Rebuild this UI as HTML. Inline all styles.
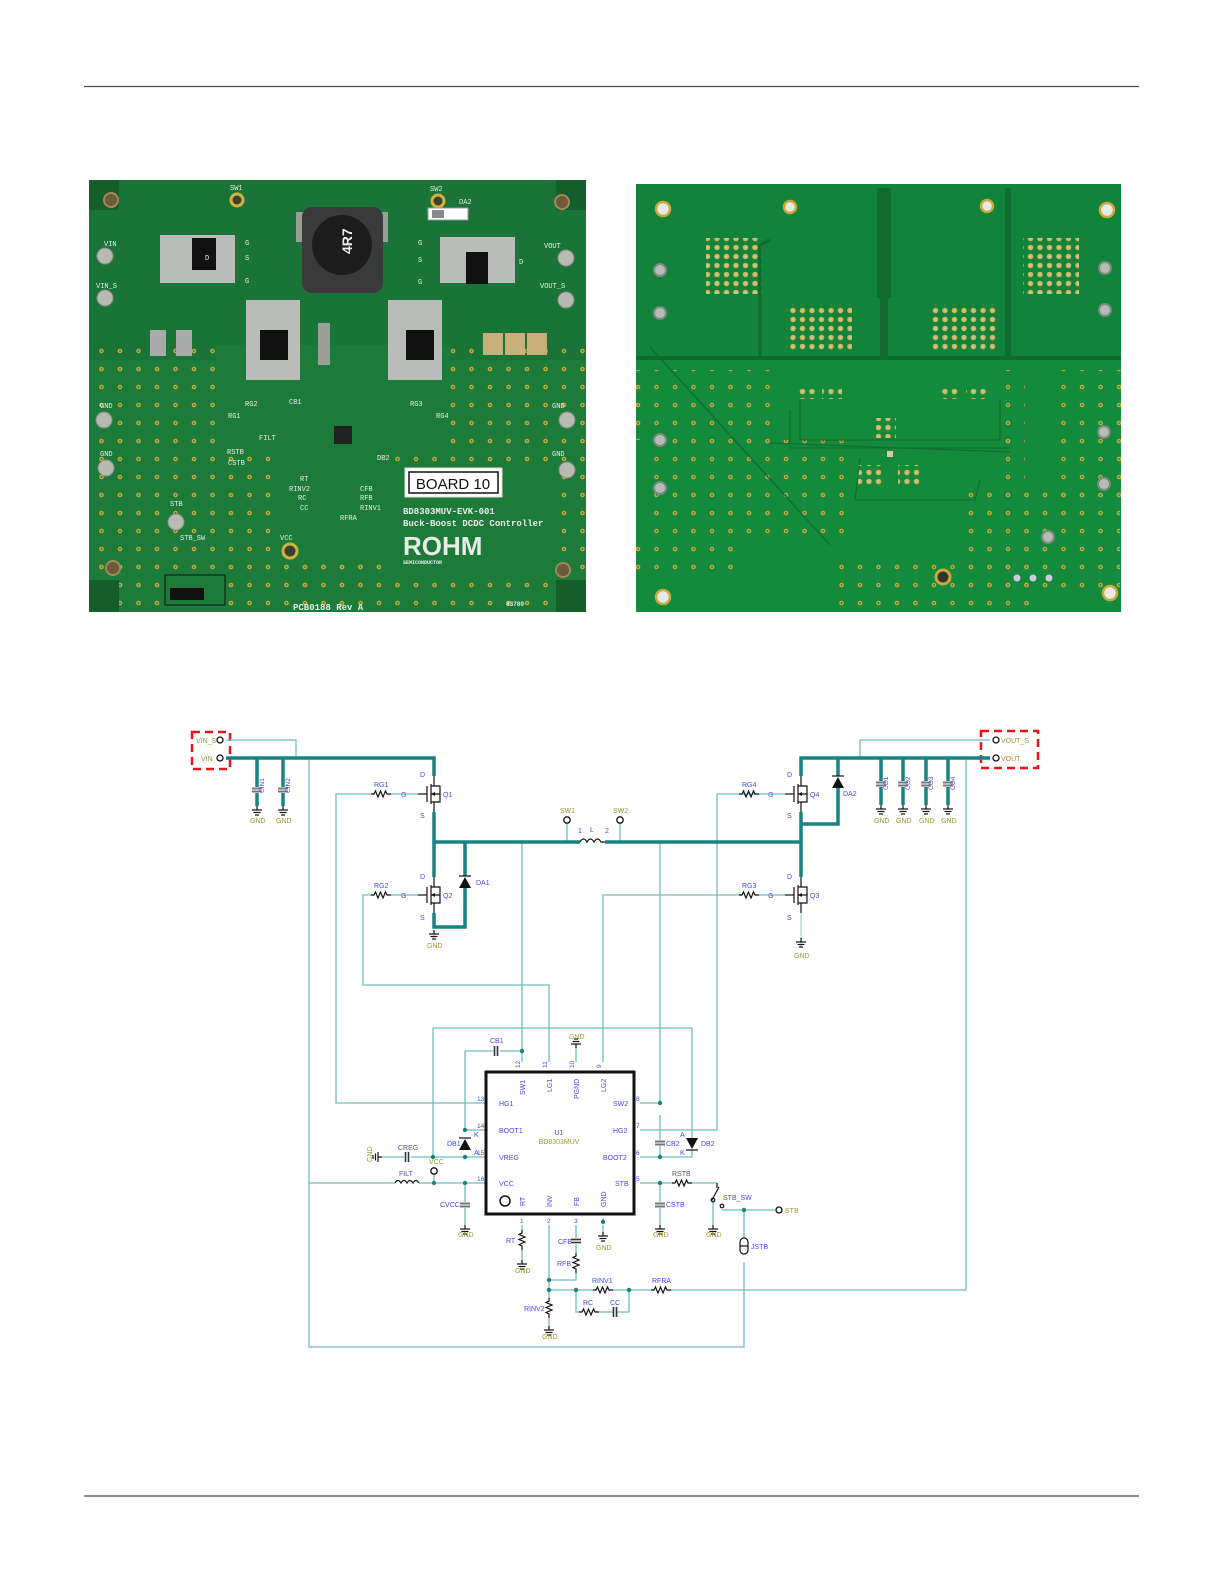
<!DOCTYPE html>
<html><head><meta charset="utf-8"><style>
html,body{margin:0;padding:0;background:#fff;}
svg{display:block;font-family:"Liberation Sans",sans-serif;}
.tk{stroke:#1a8282;stroke-width:3.5;fill:none;}
.tn{stroke:#6fbdbd;stroke-width:1.3;fill:none;}
.tl{stroke:#a9d9d9;stroke-width:1.3;fill:none;}
.bl{fill:#4b45f0;font-size:7px;}
.ol{fill:#9c9a2e;font-size:7px;}
.k{stroke:#111;stroke-width:1.2;fill:none;}
.j{fill:#1a8282;}
</style></head><body>
<svg width="1225" height="1585" viewBox="0 0 1225 1585" xmlns="http://www.w3.org/2000/svg">
<defs>
<pattern id="dots" width="18.5" height="18" patternUnits="userSpaceOnUse">
<circle cx="9" cy="9" r="2.3" fill="#c9a93a"/><circle cx="9" cy="9" r="0.9" fill="#2c6b3a"/></pattern>
<pattern id="via" width="9.5" height="9" patternUnits="userSpaceOnUse">
<circle cx="4.5" cy="4.5" r="2.8" fill="#d2b24a"/><circle cx="4.5" cy="4.5" r="1.3" fill="#bcc8c2"/></pattern>
<g id="gnd"><line x1="0" y1="0" x2="0" y2="4" class="k"/><line x1="-5" y1="4" x2="5" y2="4" class="k"/><line x1="-3.5" y1="6.5" x2="3.5" y2="6.5" class="k"/><line x1="-2" y1="9" x2="2" y2="9" class="k"/></g>
<g id="resh"><polyline points="-10,0 -7,0 -5.5,-3 -3,3 -0.5,-3 2,3 4.5,-3 6,0 10,0" class="k"/></g>
<g id="resv"><polyline points="0,-10 0,-7 -3,-5.5 3,-3 -3,-0.5 3,2 -3,4.5 0,6 0,10" class="k"/></g>
<g id="capv"><line x1="-5" y1="-1.5" x2="5" y2="-1.5" stroke="#777" stroke-width="2"/><line x1="-5" y1="1.5" x2="5" y2="1.5" stroke="#777" stroke-width="2"/></g>
<g id="caph"><line x1="-1.5" y1="-5" x2="-1.5" y2="5" stroke="#333" stroke-width="1.6"/><line x1="1.5" y1="-5" x2="1.5" y2="5" stroke="#333" stroke-width="1.6"/></g>
<g id="fet"><line x1="0" y1="-18" x2="0" y2="-8" class="k"/><line x1="0" y1="-8" x2="-3" y2="-8" class="k"/><line x1="-3" y1="-10" x2="-3" y2="10" class="k" stroke-width="1.6"/><line x1="-7" y1="-8" x2="-7" y2="8" class="k" stroke-width="1.4"/><line x1="-16" y1="0" x2="-7" y2="0" class="k"/><line x1="-3" y1="8" x2="0" y2="8" class="k"/><line x1="0" y1="8" x2="0" y2="18" class="k"/><polyline points="-3,0 6,0 6,-8 0,-8" class="k"/><polyline points="6,0 6,8 0,8" class="k"/><polygon points="-3,0 1,-2 1,2" fill="#111"/></g>
</defs>

<!-- header/footer rules -->
<line x1="84" y1="86.5" x2="1139" y2="86.5" stroke="#454f57" stroke-width="1.3"/>
<line x1="84" y1="1496" x2="1139" y2="1496" stroke="#454f57" stroke-width="1.3"/>

<!-- ===== PHOTO 1 ===== -->
<g>
<rect x="89" y="180" width="497" height="432" fill="#1d7b3a"/>
<rect x="89" y="180" width="497" height="180" fill="#1b7437"/>
<rect x="89" y="345" width="497" height="267" fill="url(#dots)"/>
<rect x="215" y="345" width="235" height="100" fill="#1d7b3a"/>
<rect x="275" y="440" width="120" height="120" fill="#1d7b3a"/>
<rect x="280" y="555" width="100" height="30" fill="url(#dots)"/>
<rect x="395" y="462" width="165" height="120" fill="#1d7b3a"/>
<rect x="89" y="180" width="30" height="30" fill="#145e2b"/>
<rect x="556" y="180" width="30" height="30" fill="#145e2b"/>
<rect x="89" y="580" width="30" height="32" fill="#145e2b"/>
<rect x="556" y="580" width="30" height="32" fill="#145e2b"/>
<g fill="#6d5a3a" stroke="#a08a5a" stroke-width="2"><circle cx="111" cy="200" r="7"/><circle cx="562" cy="202" r="7"/><circle cx="113" cy="568" r="7"/><circle cx="563" cy="570" r="7"/></g>
<g fill="#3a4030" stroke="#d4b040" stroke-width="3"><circle cx="237" cy="200" r="6"/><circle cx="438" cy="201" r="6"/><circle cx="290" cy="551" r="7"/></g>
<!-- inductor -->
<rect x="296" y="212" width="14" height="30" fill="#9aa098"/><rect x="374" y="212" width="14" height="30" fill="#9aa098"/>
<rect x="302" y="207" width="81" height="86" rx="10" fill="#3a3a3a"/>
<circle cx="342" cy="245" r="30" fill="#1c1c1c"/>
<text x="352" y="254" transform="rotate(-90 352 254)" fill="#eee" font-size="14" font-weight="bold">4R7</text>
<!-- mosfet pads -->
<g fill="#b9bcb9"><rect x="160" y="235" width="75" height="48"/><rect x="440" y="237" width="75" height="46"/><rect x="246" y="300" width="54" height="80"/><rect x="388" y="300" width="54" height="80"/></g>
<g fill="#111"><rect x="192" y="238" width="24" height="32"/><rect x="466" y="252" width="22" height="32"/><rect x="260" y="330" width="28" height="30"/><rect x="406" y="330" width="28" height="30"/></g>
<rect x="318" y="323" width="12" height="42" fill="#9aa098"/>
<rect x="428" y="208" width="40" height="12" fill="#fff" stroke="#999"/><rect x="432" y="210" width="12" height="8" fill="#888"/>
<g fill="#c9b07a"><rect x="483" y="333" width="20" height="22"/><rect x="505" y="333" width="20" height="22"/><rect x="527" y="333" width="20" height="22"/></g>
<g fill="#aaa"><rect x="150" y="330" width="16" height="26"/><rect x="176" y="330" width="16" height="26"/></g>
<rect x="334" y="426" width="18" height="18" fill="#222"/>
<!-- posts -->
<g fill="#b8bab4" stroke="#8a8c86"><circle cx="105" cy="256" r="8"/><circle cx="105" cy="298" r="8"/><circle cx="566" cy="258" r="8"/><circle cx="566" cy="300" r="8"/><circle cx="104" cy="420" r="8"/><circle cx="106" cy="468" r="8"/><circle cx="567" cy="420" r="8"/><circle cx="567" cy="470" r="8"/><circle cx="176" cy="522" r="8"/></g>
<rect x="165" y="575" width="60" height="30" fill="#1d7b3a" stroke="#111"/><rect x="170" y="588" width="34" height="12" fill="#111"/>
<!-- board label -->
<rect x="405" y="468" width="97" height="29" fill="#fff" stroke="#ddd"/><rect x="409" y="472" width="89" height="21" fill="#fff" stroke="#111" stroke-width="1.5"/>
<text x="453" y="489" text-anchor="middle" font-size="15" fill="#111">BOARD 10</text>
<g fill="#e8ece6" font-family="Liberation Mono,monospace" font-weight="bold">
<text x="403" y="514" font-size="9">BD8303MUV-EVK-001</text>
<text x="403" y="526" font-size="9">Buck-Boost DCDC Controller</text>
<text x="403" y="555" font-size="26" font-family="Liberation Sans,sans-serif">ROHM</text>
<text x="403" y="564" font-size="5">SEMICONDUCTOR</text>
<text x="293" y="610" font-size="9">PCB0188 Rev A</text>
<text x="506" y="606" font-size="6">83780</text>
</g>
<g fill="#e8ece6" font-size="7" font-family="Liberation Mono,monospace">
<text x="230" y="190">SW1</text><text x="430" y="191">SW2</text><text x="459" y="204">DA2</text>
<text x="104" y="246">VIN</text><text x="96" y="288">VIN_S</text><text x="544" y="248">VOUT</text><text x="540" y="288">VOUT_S</text>
<text x="100" y="408">GND</text><text x="100" y="456">GND</text><text x="552" y="408">GND</text><text x="552" y="456">GND</text>
<text x="170" y="506">STB</text><text x="180" y="540">STB_SW</text><text x="280" y="540">VCC</text>
<text x="245" y="406">RG2</text><text x="228" y="418">RG1</text><text x="410" y="406">RG3</text><text x="436" y="418">RG4</text>
<text x="259" y="440">FILT</text><text x="227" y="454">RSTB</text><text x="228" y="465">CSTB</text>
<text x="300" y="481">RT</text><text x="289" y="491">RINV2</text><text x="298" y="500">RC</text><text x="300" y="510">CC</text>
<text x="360" y="491">CFB</text><text x="360" y="500">RFB</text><text x="360" y="510">RINV1</text><text x="340" y="520">RFRA</text>
<text x="289" y="404">CB1</text><text x="377" y="460">DB2</text>
<text x="205" y="260">D</text><text x="245" y="245">G</text><text x="245" y="260">S</text><text x="245" y="283">G</text>
<text x="418" y="245">G</text><text x="418" y="262">S</text><text x="418" y="284">G</text><text x="519" y="264">D</text>
</g>
</g>

<!-- ===== PHOTO 2 ===== -->
<g>
<rect x="636" y="184" width="485" height="428" fill="#138a3c"/>
<rect x="636" y="184" width="485" height="175" fill="#12833a"/>
<polyline points="636,358 760,358 760,245 770,240" stroke="#0e6a2e" stroke-width="3" fill="none"/>
<rect x="877" y="188" width="14" height="110" fill="#0e6a2e"/>
<rect x="880" y="298" width="8" height="60" fill="#0e6a2e"/>
<line x1="636" y1="358" x2="1121" y2="358" stroke="#0e6a2e" stroke-width="4"/>
<rect x="1005" y="188" width="6" height="170" fill="#0e6a2e"/>
<rect x="636" y="370" width="140" height="70" fill="url(#dots)"/>
<rect x="650" y="440" width="200" height="100" fill="url(#dots)"/>
<rect x="636" y="540" width="110" height="40" fill="url(#dots)"/>
<rect x="830" y="560" width="200" height="52" fill="url(#dots)"/>
<rect x="960" y="490" width="160" height="110" fill="url(#dots)"/>
<rect x="1050" y="370" width="71" height="130" fill="url(#dots)"/>
<rect x="1005" y="370" width="20" height="110" fill="url(#dots)"/>
<line x1="650" y1="347" x2="830" y2="545" stroke="#0e6a2e" stroke-width="1.2"/>
<rect x="706" y="238" width="56" height="56" fill="url(#via)"/>
<rect x="1023" y="238" width="56" height="56" fill="url(#via)"/>
<rect x="786" y="304" width="66" height="47" fill="url(#via)"/>
<rect x="930" y="304" width="66" height="47" fill="url(#via)"/>
<rect x="796" y="389" width="20" height="10" fill="url(#via)"/><rect x="822" y="389" width="20" height="10" fill="url(#via)"/>
<rect x="940" y="389" width="20" height="10" fill="url(#via)"/><rect x="966" y="389" width="20" height="10" fill="url(#via)"/>
<rect x="876" y="418" width="20" height="20" fill="url(#via)"/>
<rect x="858" y="465" width="24" height="20" fill="url(#via)"/><rect x="898" y="465" width="24" height="20" fill="url(#via)"/>
<rect x="887" y="451" width="6" height="6" fill="#d8c8a8"/>
<g fill="none" stroke="#0e6a2e" stroke-width="1"><polyline points="800,400 800,440 1000,440 1000,400"/><polyline points="790,410 790,448 1010,448"/><polyline points="770,443 1010,452"/><polyline points="860,458 855,500 975,500 980,480"/></g>
<g fill="#e7e9e7" stroke="#c9a93a" stroke-width="2.5"><circle cx="663" cy="209" r="7"/><circle cx="790" cy="207" r="6"/><circle cx="987" cy="206" r="6"/><circle cx="1107" cy="210" r="7"/><circle cx="663" cy="597" r="7"/><circle cx="1110" cy="593" r="7"/></g>
<circle cx="943" cy="577" r="7" fill="#333" stroke="#c9a93a" stroke-width="3"/>
<g fill="#b8bcb8" stroke="#7b8a80" stroke-width="2"><circle cx="660" cy="270" r="6"/><circle cx="660" cy="313" r="6"/><circle cx="660" cy="440" r="6"/><circle cx="660" cy="488" r="6"/><circle cx="1105" cy="268" r="6"/><circle cx="1105" cy="310" r="6"/><circle cx="1104" cy="432" r="6"/><circle cx="1104" cy="484" r="6"/><circle cx="1048" cy="537" r="6"/></g>
<g fill="#ccd"><circle cx="1017" cy="578" r="3.5"/><circle cx="1033" cy="578" r="3.5"/><circle cx="1049" cy="578" r="3.5"/></g>
</g>

<!-- ===== SCHEMATIC ===== -->
<!-- red dashed boxes -->
<rect x="192" y="732" width="38" height="37" fill="none" stroke="#e8141a" stroke-width="2.5" stroke-dasharray="8,5"/>
<rect x="981" y="731" width="57" height="37" fill="none" stroke="#e8141a" stroke-width="2.5" stroke-dasharray="8,5"/>

<!-- thin wires -->
<g class="tn">
<polyline points="226,740 296,740 296,758"/>
<polyline points="309,758 309,1347 744,1347 744,1262"/>
<polyline points="309,1183 395,1183"/>
<polyline points="371,794 336,794 336,1103 486,1103"/>
<polyline points="371,895 363,895 363,985 549,985 549,1062"/>
<polyline points="522,842 522,1062"/>
<polyline points="660,842 660,1103 640,1103"/>
<polyline points="755,794 717,794 717,1130 640,1130"/>
<polyline points="741,895 603,895 603,1062"/>
<polyline points="860,758 860,740 990,740"/>
<polyline points="433,1157 433,1028 692,1028 692,1138"/>
<polyline points="465,1051 493,1051"/><polyline points="500,1051 522,1051"/>
<polyline points="465,1051 465,1130 486,1130"/>
<polyline points="382,1157 404,1157"/><polyline points="411,1157 486,1157"/>
<polyline points="419,1183 486,1183"/>
<polyline points="434,1175 434,1183"/>
<polyline points="465,1183 465,1202"/><polyline points="465,1208 465,1225"/>
<polyline points="660,1115 660,1140"/><polyline points="660,1146 660,1157"/>
<polyline points="640,1157 692,1157 692,1150"/>
<polyline points="640,1183 672,1183"/><polyline points="692,1183 717,1183"/>
<polyline points="660,1183 660,1202"/><polyline points="660,1208 660,1225"/>
<polyline points="713,1200 713,1225"/>
<polyline points="722,1210 775,1210"/>
<polyline points="744,1210 744,1238"/>
<polyline points="576,1062 576,1048"/>
<polyline points="522,1225 522,1230"/><polyline points="522,1250 522,1260"/>
<polyline points="549,1225 549,1298"/><polyline points="549,1318 549,1326"/>
<polyline points="576,1225 576,1238"/><polyline points="576,1244 576,1253"/><polyline points="576,1273 576,1280 549,1280"/>
<polyline points="603,1225 603,1232"/>
<polyline points="549,1290 593,1290"/><polyline points="613,1290 651,1290"/><polyline points="671,1290 966,1290 966,758"/>
<polyline points="576,1290 576,1312 579,1312"/><polyline points="599,1312 613,1312"/><polyline points="617,1312 629,1312 629,1290"/>
<polyline points="567,824 567,842"/><polyline points="620,824 620,842"/>
</g>
<g class="tl"><polyline points="434,930 434,938"/><polyline points="801,913 801,948"/></g>

<!-- thick wires -->
<g class="tk">
<polyline points="226,758 434,758 434,776"/>
<polyline points="257,758 257,787"/><polyline points="257,793 257,806"/>
<polyline points="283,758 283,787"/><polyline points="283,793 283,806"/>
<polyline points="434,812 434,842 580,842"/>
<polyline points="605,842 801,842"/>
<polyline points="434,842 434,877"/>
<polyline points="465,842 465,876"/><polyline points="465,888 465,927 434,927 434,913"/>
<polyline points="801,812 801,842 801,877"/>
<polyline points="801,776 801,758 990,758"/>
<polyline points="838,758 838,776"/><polyline points="838,788 838,824 801,824"/>
<polyline points="881,758 881,781"/><polyline points="881,787 881,805"/>
<polyline points="903,758 903,781"/><polyline points="903,787 903,805"/>
<polyline points="926,758 926,781"/><polyline points="926,787 926,805"/>
<polyline points="948,758 948,781"/><polyline points="948,787 948,805"/>
</g>

<!-- junctions -->
<g class="j">
<circle cx="522" cy="1051" r="2.2"/><circle cx="465" cy="1130" r="2.2"/><circle cx="465" cy="1157" r="2.2"/><circle cx="433" cy="1157" r="2.2"/>
<circle cx="434" cy="1183" r="2.2"/><circle cx="465" cy="1183" r="2.2"/><circle cx="660" cy="1103" r="2.2"/><circle cx="660" cy="1157" r="2.2"/>
<circle cx="660" cy="1183" r="2.2"/><circle cx="744" cy="1210" r="2.2"/><circle cx="549" cy="1280" r="2.2"/><circle cx="549" cy="1290" r="2.2"/>
<circle cx="576" cy="1290" r="2.2"/><circle cx="629" cy="1290" r="2.2"/><circle cx="603" cy="1222" r="2"/>
</g>

<!-- terminals -->
<g fill="#fff" stroke="#111" stroke-width="1.3">
<circle cx="220" cy="740" r="3"/><circle cx="220" cy="758" r="3"/>
<circle cx="996" cy="740" r="3"/><circle cx="996" cy="758" r="3"/>
<circle cx="567" cy="820" r="3.2"/><circle cx="620" cy="820" r="3.2"/>
<circle cx="434" cy="1171" r="3.2"/><circle cx="779" cy="1210" r="3"/>
</g>
<text x="196" y="743" class="ol">VIN_S</text><text x="201" y="761" class="ol">VIN</text>
<text x="1001" y="743" class="ol">VOUT_S</text><text x="1001" y="761" class="ol">VOUT</text>
<text x="560" y="813" class="ol">SW1</text><text x="613" y="813" class="ol">SW2</text>
<text x="429" y="1164" class="ol">VCC</text><text x="785" y="1213" class="ol">STB</text>

<!-- FETs -->
<use href="#fet" x="434" y="794"/><use href="#fet" x="434" y="895"/>
<use href="#fet" x="801" y="794"/><use href="#fet" x="801" y="895"/>
<g class="bl">
<text x="420" y="777">D</text><text x="420" y="818">S</text><text x="401" y="797">G</text><text x="443" y="797">Q1</text>
<text x="420" y="879">D</text><text x="420" y="920">S</text><text x="401" y="898">G</text><text x="443" y="898">Q2</text>
<text x="787" y="777">D</text><text x="787" y="818">S</text><text x="768" y="797">G</text><text x="810" y="797">Q4</text>
<text x="787" y="879">D</text><text x="787" y="920">S</text><text x="768" y="898">G</text><text x="810" y="898">Q3</text>
</g>
<!-- gate resistors -->
<g><use href="#resh" x="381" y="794"/><use href="#resh" x="381" y="895"/><use href="#resh" x="749" y="794"/><use href="#resh" x="749" y="895"/></g>
<g class="tn"><line x1="391" y1="794" x2="418" y2="794"/><line x1="391" y1="895" x2="418" y2="895"/><line x1="759" y1="794" x2="785" y2="794"/><line x1="759" y1="895" x2="785" y2="895"/></g>
<g class="bl"><text x="374" y="787">RG1</text><text x="374" y="888">RG2</text><text x="742" y="787">RG4</text><text x="742" y="888">RG3</text></g>
<!-- diodes -->
<polygon points="459,888 471,888 465,877" fill="#111"/><line x1="459" y1="876" x2="471" y2="876" class="k"/>
<text x="476" y="885" class="bl">DA1</text>
<polygon points="832,788 844,788 838,777" fill="#111"/><line x1="832" y1="776" x2="844" y2="776" class="k"/>
<text x="843" y="796" class="bl">DA2</text>
<!-- inductor -->
<path d="M580,842 q3.5,-6 7,0 q3.5,-6 7,0 q3.5,-6 7,0 l4,0" class="k"/>
<text x="590" y="832" class="bl">L</text><text x="578" y="833" class="bl" font-size="5">1</text><text x="605" y="833" class="bl" font-size="5">2</text>
<!-- input/output caps -->
<use href="#capv" x="257" y="790"/><use href="#capv" x="283" y="790"/>
<use href="#gnd" x="257" y="806"/><use href="#gnd" x="283" y="806"/>
<g class="bl"><text x="264" y="793" transform="rotate(-90 264 793)" font-size="6.5">CIN1</text><text x="290" y="793" transform="rotate(-90 290 793)" font-size="6.5">CIN2</text>
<text x="888" y="790" transform="rotate(-90 888 790)" font-size="6.5">CO1</text><text x="910" y="790" transform="rotate(-90 910 790)" font-size="6.5">CO2</text>
<text x="933" y="790" transform="rotate(-90 933 790)" font-size="6.5">CO3</text><text x="955" y="790" transform="rotate(-90 955 790)" font-size="6.5">CO4</text></g>
<use href="#capv" x="881" y="784"/><use href="#capv" x="903" y="784"/><use href="#capv" x="926" y="784"/><use href="#capv" x="948" y="784"/>
<use href="#gnd" x="881" y="805"/><use href="#gnd" x="903" y="805"/><use href="#gnd" x="926" y="805"/><use href="#gnd" x="948" y="805"/>
<use href="#gnd" x="434" y="930"/><use href="#gnd" x="801" y="938"/>
<g class="ol"><text x="250" y="823">GND</text><text x="276" y="823">GND</text><text x="427" y="948">GND</text><text x="794" y="958">GND</text>
<text x="874" y="823">GND</text><text x="896" y="823">GND</text><text x="919" y="823">GND</text><text x="941" y="823">GND</text></g>

<!-- IC -->
<rect x="486" y="1072" width="148" height="142" fill="#fff" stroke="#111" stroke-width="3"/>
<circle cx="505" cy="1201" r="5" fill="none" stroke="#111" stroke-width="1.5"/>
<text x="559" y="1135" class="bl" text-anchor="middle">U1</text>
<text x="559" y="1144" class="ol" text-anchor="middle">BD8303MUV</text>
<g class="bl">
<text x="499" y="1106">HG1</text><text x="499" y="1133">BOOT1</text><text x="499" y="1160">VREG</text><text x="499" y="1186">VCC</text>
<text x="613" y="1106">SW2</text><text x="613" y="1133">HG2</text><text x="603" y="1160">BOOT2</text><text x="615" y="1186">STB</text>
<text x="525" y="1095" transform="rotate(-90 525 1095)">SW1</text><text x="552" y="1092" transform="rotate(-90 552 1092)">LG1</text>
<text x="579" y="1099" transform="rotate(-90 579 1099)">PGND</text><text x="606" y="1092" transform="rotate(-90 606 1092)">LG2</text>
<text x="525" y="1206" transform="rotate(-90 525 1206)">RT</text><text x="552" y="1207" transform="rotate(-90 552 1207)">INV</text>
<text x="579" y="1206" transform="rotate(-90 579 1206)">FB</text><text x="606" y="1207" transform="rotate(-90 606 1207)">GND</text>
<g font-size="6.5"><text x="477" y="1101">13</text><text x="477" y="1128">14</text><text x="477" y="1155">15</text><text x="477" y="1181">16</text>
<text x="636" y="1101">8</text><text x="636" y="1128">7</text><text x="636" y="1155">6</text><text x="636" y="1181">5</text>
<text x="520" y="1068" transform="rotate(-90 520 1068)">12</text><text x="547" y="1068" transform="rotate(-90 547 1068)">11</text>
<text x="574" y="1068" transform="rotate(-90 574 1068)">10</text><text x="601" y="1068" transform="rotate(-90 601 1068)">9</text>
<text x="520" y="1223">1</text><text x="547" y="1223">2</text><text x="574" y="1223">3</text><text x="601" y="1223">4</text></g>
</g>
<!-- IC peripheral parts -->
<use href="#caph" x="496" y="1051"/><text x="490" y="1043" class="bl">CB1</text>
<use href="#gnd" x="576" y="1048" transform="rotate(180 576 1048)"/><text x="569" y="1039" class="ol">GND</text>
<polygon points="459,1150 471,1150 465,1139" fill="#111"/><line x1="459" y1="1138" x2="471" y2="1138" class="k"/>
<text x="447" y="1146" class="bl">DB1</text><text x="474" y="1137" class="bl">K</text><text x="474" y="1155" class="bl">A</text>
<use href="#caph" x="407" y="1157"/><text x="398" y="1150" class="bl">CREG</text>
<g transform="translate(382,1157) rotate(90)"><use href="#gnd"/></g>
<text x="372" y="1162" transform="rotate(-90 372 1162)" class="ol">GND</text>
<path d="M395,1183 q3,-5 6,0 q3,-5 6,0 q3,-5 6,0 q3,-5 6,0" class="k"/><text x="399" y="1176" class="bl">FILT</text>
<use href="#capv" x="465" y="1205"/><text x="440" y="1207" class="bl">CVCC</text>
<use href="#gnd" x="465" y="1225"/><text x="458" y="1237" class="ol">GND</text>
<use href="#capv" x="660" y="1143"/><text x="666" y="1146" class="bl">CB2</text>
<polygon points="686,1138 698,1138 692,1149" fill="#111"/><line x1="686" y1="1150" x2="698" y2="1150" class="k"/>
<text x="701" y="1146" class="bl">DB2</text><text x="680" y="1137" class="bl">A</text><text x="680" y="1155" class="bl">K</text>
<use href="#resh" x="682" y="1183"/><text x="672" y="1176" class="bl">RSTB</text>
<use href="#capv" x="660" y="1205"/><text x="666" y="1207" class="bl">CSTB</text>
<use href="#gnd" x="660" y="1225"/><text x="653" y="1237" class="ol">GND</text>
<line x1="717" y1="1183" x2="717" y2="1188" class="k"/><line x1="712" y1="1200" x2="719" y2="1187" class="k"/>
<circle cx="713" cy="1200" r="1.8" fill="none" class="k"/><circle cx="722" cy="1206" r="1.8" fill="none" class="k"/>
<text x="723" y="1200" class="bl">STB_SW</text>
<use href="#gnd" x="713" y="1225"/><text x="706" y="1237" class="ol">GND</text>
<rect x="740" y="1238" width="8" height="16" rx="4" fill="none" class="k"/><line x1="740" y1="1246" x2="748" y2="1246" class="k"/>
<text x="751" y="1249" class="bl">JSTB</text>
<use href="#resv" x="522" y="1240"/><text x="506" y="1243" class="bl">RT</text>
<use href="#gnd" x="522" y="1260"/><text x="515" y="1273" class="ol">GND</text>
<use href="#caph" x="576" y="1241" transform="rotate(90 576 1241)"/><text x="558" y="1244" class="bl">CFB</text>
<use href="#resv" x="576" y="1263"/><text x="557" y="1266" class="bl">RFB</text>
<use href="#gnd" x="603" y="1232"/><text x="596" y="1250" class="ol">GND</text>
<use href="#resv" x="549" y="1308"/><text x="524" y="1311" class="bl">RINV2</text>
<use href="#gnd" x="549" y="1326"/><text x="542" y="1339" class="ol">GND</text>
<use href="#resh" x="603" y="1290"/><text x="592" y="1283" class="bl">RINV1</text>
<use href="#resh" x="661" y="1290"/><text x="652" y="1283" class="bl">RFRA</text>
<use href="#resh" x="589" y="1312"/><text x="583" y="1305" class="bl">RC</text>
<use href="#caph" x="615" y="1312"/><text x="610" y="1305" class="bl">CC</text>
</svg>
</body></html>
